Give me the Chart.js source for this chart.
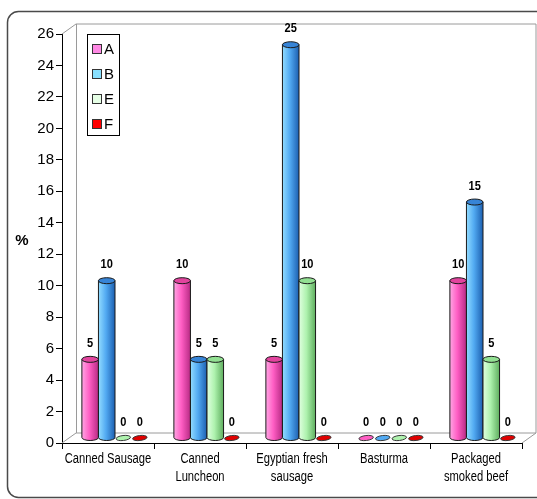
<!DOCTYPE html>
<html>
<head>
<meta charset="utf-8">
<script src="https://cdn.jsdelivr.net/npm/chart.js@4/dist/chart.umd.min.js"></script>
<style>
  html, body { margin: 0; padding: 0; background: #fff; }
  #wrap { width: 537px; height: 499px; position: relative; }
</style>
</head>
<body>
<div id="wrap"><canvas id="c" width="537" height="499"></canvas></div>
<script>
// Categories (multi-line tick labels) and series
const categories = [["Canned Sausage"], ["Canned", "Luncheon"], ["Egyptian fresh", "sausage"], ["Basturma"], ["Packaged", "smoked beef"]];
const seriesNames = ["A", "B", "E", "F"];
const valuesA = [5, 10, 5, 0, 10];
const valuesB = [10, 5, 25, 0, 15];
const valuesE = [0, 5, 10, 0, 5];
const valuesF = [0, 0, 0, 0, 0];
const yMin = 0, yMax = 26, yStep = 2;
const yAxisLabel = "%";

// Cylinder shading per series: light edge, middle, dark edge, top cap, legend swatch
const shades = [
  { light: '#ffa6e4', mid: '#ff5ec4', dark: '#b82a84', top: '#e2449e', key: '#ff88e4' },
  { light: '#92dcff', mid: '#52aaf2', dark: '#1c5fb0', top: '#3784d6', key: '#88e0ff' },
  { light: '#e0ffe0', mid: '#aef2ae', dark: '#5fae5f', top: '#92e092', key: '#e6ffe6' },
  { light: '#ff5050', mid: '#e00000', dark: '#8a0000', top: '#d40000', key: '#ff0000' }
];

// 3D depth of the box (back wall offset)
const DEPTH_X = 14, DEPTH_Y = -10;
// horizontal squeeze for the narrow label face
const NARROW = 0.8;

function narrowText(ctx, text, x, y, squeeze) {
  ctx.save();
  ctx.translate(x, y);
  ctx.scale(squeeze, 1);
  ctx.fillText(text, 0, 0);
  ctx.restore();
}

const frame3d = {
  id: 'frame3d',
  beforeDraw(chart) {
    const ctx = chart.ctx;
    ctx.save();
    ctx.fillStyle = '#fff';
    ctx.fillRect(0, 0, chart.width, chart.height);
    // outer rounded frame
    ctx.strokeStyle = '#4a4a4a';
    ctx.lineWidth = 1.5;
    ctx.beginPath();
    ctx.roundRect(7.5, 11.5, 545, 486, 11);
    ctx.stroke();
    ctx.restore();
  },
  beforeDatasetsDraw(chart) {
    const { ctx, chartArea: a } = chart;
    const L = a.left, R = a.right, T = a.top, B = a.bottom;
    ctx.save();
    ctx.lineWidth = 1;
    ctx.strokeStyle = '#9a9a9a';
    ctx.beginPath();
    // left wall and back wall
    ctx.moveTo(L, T); ctx.lineTo(L + DEPTH_X, T + DEPTH_Y);
    ctx.lineTo(R + DEPTH_X, T + DEPTH_Y);
    ctx.lineTo(R + DEPTH_X, B + DEPTH_Y);
    ctx.moveTo(L + DEPTH_X + 0.5, T + DEPTH_Y); ctx.lineTo(L + DEPTH_X + 0.5, B + DEPTH_Y);
    // floor
    ctx.moveTo(L, B); ctx.lineTo(L + DEPTH_X, B + DEPTH_Y);
    ctx.lineTo(R + DEPTH_X, B + DEPTH_Y);
    ctx.moveTo(R, B); ctx.lineTo(R + DEPTH_X, B + DEPTH_Y);
    ctx.stroke();
    ctx.restore();
  }
};

const cylinders = {
  id: 'cylinders',
  afterDatasetsDraw(chart) {
    const ctx = chart.ctx;
    const dx = DEPTH_X / 2, dy = DEPTH_Y / 2;
    const ry = 3;
    ctx.save();
    chart.data.datasets.forEach((ds, di) => {
      const meta = chart.getDatasetMeta(di);
      const s = shades[di];
      meta.data.forEach((el, i) => {
        const p = el.getProps(['x', 'y', 'base', 'width'], true);
        const cx = p.x + dx;
        const w = p.width;
        const x0 = cx - w / 2, x1 = cx + w / 2;
        const top = p.y + dy, bot = p.base + dy;
        ctx.lineWidth = 1;
        ctx.strokeStyle = '#1a1a1a';
        if (bot - top > 0.5) {
          const g = ctx.createLinearGradient(x0, 0, x1, 0);
          g.addColorStop(0, s.light);
          g.addColorStop(0.45, s.mid);
          g.addColorStop(1, s.dark);
          ctx.fillStyle = g;
          ctx.beginPath();
          ctx.moveTo(x0, top);
          ctx.lineTo(x0, bot);
          ctx.ellipse(cx, bot, w / 2, ry, 0, Math.PI, 0, true);
          ctx.lineTo(x1, top);
          ctx.closePath();
          ctx.fill();
          ctx.stroke();
          ctx.fillStyle = s.top;
          ctx.beginPath();
          ctx.ellipse(cx, top, w / 2, ry, 0, 0, Math.PI * 2);
          ctx.fill();
          ctx.stroke();
        } else {
          // flat disc for a zero value
          ctx.fillStyle = s.mid;
          ctx.beginPath();
          ctx.ellipse(cx, bot, w / 2 - 1, ry - 0.5, -0.12, 0, Math.PI * 2);
          ctx.fill();
          ctx.strokeStyle = '#3a3a3a';
          ctx.stroke();
        }
        // value label
        ctx.fillStyle = '#000';
        ctx.font = 'bold 13px "Liberation Sans", Arial, sans-serif';
        ctx.textAlign = 'center';
        ctx.textBaseline = 'middle';
        narrowText(ctx, String(ds.data[i]), cx, top - 16, 0.85);
      });
    });
    ctx.restore();
  }
};

const overlay = {
  id: 'overlay',
  afterDraw(chart) {
    const ctx = chart.ctx;
    ctx.save();
    // category labels under the axis, placed from the category scale
    const xs = chart.scales.x;
    ctx.fillStyle = '#000';
    ctx.font = '14px "Liberation Sans", Arial, sans-serif';
    ctx.textAlign = 'center';
    ctx.textBaseline = 'middle';
    chart.data.labels.forEach((lines, i) => {
      const x = xs.getPixelForTick(i);
      lines.forEach((t, j) => narrowText(ctx, t, x, 459 + j * 18, NARROW));
    });

    // legend
    const bx = 87.5, by = 34.5, bw = 32, bh = 101;
    ctx.fillStyle = '#fff';
    ctx.fillRect(bx, by, bw, bh);
    ctx.strokeStyle = '#000';
    ctx.lineWidth = 1;
    ctx.strokeRect(bx, by, bw, bh);
    ctx.font = '15px "Liberation Sans", Arial, sans-serif';
    ctx.textBaseline = 'middle';
    ctx.textAlign = 'left';
    chart.data.datasets.forEach((ds, i) => {
      const cy = 49 + i * 25;
      ctx.fillStyle = shades[i].key;
      ctx.fillRect(92.5, cy - 4.5, 9, 9);
      ctx.strokeStyle = '#333';
      ctx.strokeRect(92.5, cy - 4.5, 9, 9);
      ctx.fillStyle = '#000';
      ctx.fillText(ds.label, 104, cy + 1);
    });
    // y axis unit
    ctx.font = 'bold 15px "Liberation Sans", Arial, sans-serif';
    ctx.textAlign = 'center';
    ctx.fillText(yAxisLabel, 22, 241);
    ctx.restore();
  }
};

const seriesValues = [valuesA, valuesB, valuesE, valuesF];

new Chart(document.getElementById('c'), {
  type: 'bar',
  data: {
    labels: categories,
    datasets: seriesNames.map((name, i) => ({
      label: name,
      data: seriesValues[i],
      backgroundColor: 'rgba(0,0,0,0)',
      borderWidth: 0,
      categoryPercentage: 0.72,
      barPercentage: 1.0
    }))
  },
  options: {
    responsive: false,
    animation: false,
    events: [],
    layout: { padding: { left: 0, right: 15, top: 34, bottom: 0 } },
    plugins: {
      legend: { display: false },
      tooltip: { enabled: false },
      title: { display: false }
    },
    scales: {
      x: {
        offset: true,
        grid: { offset: true, drawOnChartArea: false, tickLength: 6, color: '#000', tickColor: '#000' },
        border: { color: '#000', width: 1 },
        ticks: {
          color: 'rgba(0,0,0,0)',
          padding: 3,
          maxRotation: 0,
          autoSkip: false,
          font: { family: '"Liberation Sans", Arial, sans-serif', size: 12, lineHeight: 1.25 }
        },
        afterFit(scale) { scale.height = 56; }
      },
      y: {
        min: yMin,
        max: yMax,
        ticks: {
          stepSize: yStep,
          color: '#000',
          padding: 2,
          font: { family: '"Liberation Sans", Arial, sans-serif', size: 15 }
        },
        grid: { drawOnChartArea: false, tickLength: 6, color: '#000', tickColor: '#000' },
        border: { color: '#000', width: 1 },
        afterFit(scale) { scale.width = 62; }
      }
    }
  },
  plugins: [frame3d, cylinders, overlay]
});
</script>
</body>
</html>
